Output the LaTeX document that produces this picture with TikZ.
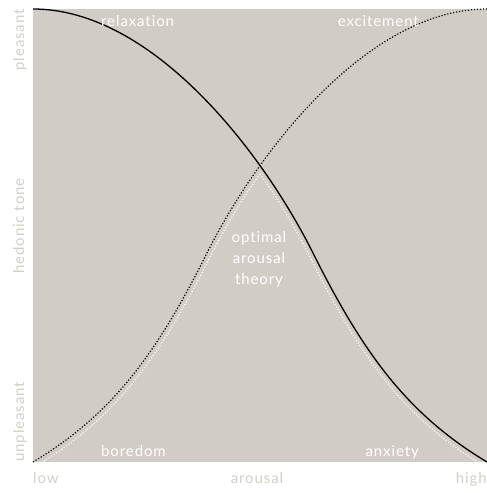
\documentclass[tikz,border=0pt]{standalone}
\usepackage{fontspec}
\setmainfont[LetterSpace=6,Ligatures=NoCommon]{Lato}
\definecolor{panel}{HTML}{D1CDC6}
\definecolor{axistxt}{HTML}{D3CFC8}
\begin{document}
\begin{tikzpicture}[x=1pt,y=-1pt,
  intext/.style={text=white,font=\fontsize{15}{18}\selectfont,inner sep=0pt},
  axtext/.style={text=axistxt,font=\fontsize{15}{18}\selectfont,inner sep=0pt},
  solidcurve/.style={line width=1.3pt,black},
  dotcurve/.style={line width=1.2pt,black,dash pattern=on 1.2pt off 1.8pt},
  whitecurve/.style={line width=1.2pt,white,dash pattern=on 1.1pt off 1.9pt}]
\useasboundingbox (0,0) rectangle (487,493);
\fill[panel] (33,9) rectangle (487,462);
% white dotted envelope
\begin{scope}
\clip (33,9) rectangle (260,462);
\draw[whitecurve] (36,466) .. controls (116,418) and (160,357) .. (210,257) .. controls (260,157) and (370,13) .. (490,13);
\end{scope}
\begin{scope}
\clip (260,9) rectangle (487,462);
\draw[whitecurve] (30,13) .. controls (150,13) and (260,157) .. (310,257) .. controls (360,357) and (404,418) .. (484,466);
\end{scope}
% curves
\draw[solidcurve] (33,9) .. controls (153,9) and (263,153) .. (313,253) .. controls (363,353) and (407,414) .. (487,462);
\draw[dotcurve] (487,9) .. controls (367,9) and (257,153) .. (207,253) .. controls (157,353) and (113,414) .. (33,462);
% labels inside
\node[intext,anchor=base west] (relax) at (101,26) {relaxation};
\node[intext,anchor=base east] (excite) at (419,26) {excitement};
\node[intext,anchor=base west] (bore) at (101,456) {boredom};
\node[intext,anchor=base east] (anx) at (419,456) {anxiety};
\node[intext,anchor=base] (opt1) at (259,242) {optimal};
\node[intext,anchor=base] (opt2) at (259,263) {arousal};
\node[intext,anchor=base] (opt3) at (259,284) {theory};
% axis labels
\node[axtext,anchor=base west] (low) at (33,483) {low};
\node[axtext,anchor=base] (arous) at (257,483) {arousal};
\node[axtext,anchor=base east] (high) at (487,483) {high};
\node[axtext,rotate=90,anchor=base east] (pleas) at (24,9) {pleasant};
\node[axtext,rotate=90,anchor=base] (hed) at (24,226) {hedonic tone};
\node[axtext,rotate=90,anchor=base west] (unpl) at (24,462) {unpleasant};
\end{tikzpicture}
\end{document}
